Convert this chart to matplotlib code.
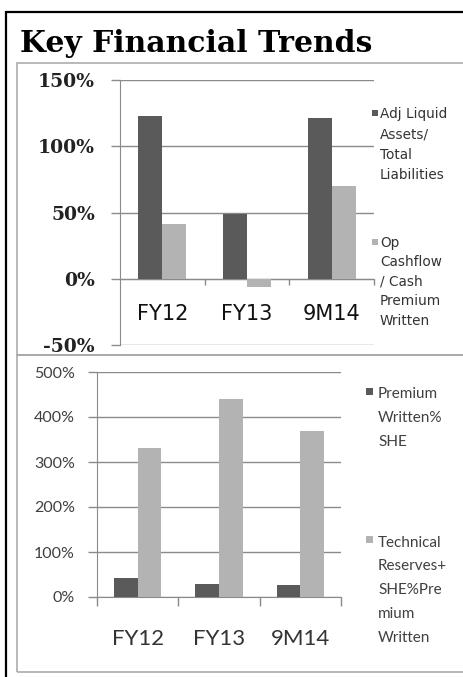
import numpy as np
import matplotlib.pyplot as plt
from matplotlib.patches import Rectangle

# ============================
# Datos
# ============================
periods = ["FY12", "FY13", "9M14"]

liquid_assets = [123, 49, 121]      # Adj Liquid Assets / Total Liabilities (%)
op_cashflow = [41, -6, 70]          # Op Cashflow / Cash Premium Written (%)
liq_labels = ["Adj Liquid", "Assets/", "Total", "Liabilities"]
cash_labels = ["Op", "Cashflow", "/ Cash", "Premium", "Written"]

premium_she = [42, 30, 27]          # Premium Written % SHE
reserves_premium = [332, 439, 369]  # Technical Reserves + SHE % Premium Written
prem_labels = ["Premium", "Written%", "SHE"]
res_labels = ["Technical", "Reserves+", "SHE%Pre", "mium", "Written"]

top_ticks = [-50, 0, 50, 100, 150]
bottom_ticks = [0, 100, 200, 300, 400, 500]

DARK = "#5a5a5a"
LIGHT = "#b3b3b3"
GRID = "#8a8a8a"
FRAME = "#a6a6a6"

W, H = 464, 677
fig = plt.figure(figsize=(W / 100, H / 100), dpi=100)
fig.patch.set_facecolor("white")


def box(x0, y0, x1, y1):
    # caja en pixeles (origen arriba-izquierda) -> coordenadas de figura
    return [x0 / W, 1 - y1 / H, (x1 - x0) / W, (y1 - y0) / H]


def frame(x0, y0, x1, y1, color, lw):
    fig.add_artist(Rectangle((x0 / W, 1 - y1 / H), (x1 - x0) / W, (y1 - y0) / H,
                             transform=fig.transFigure, fill=False,
                             edgecolor=color, lw=lw, clip_on=False))


def legend_block(x_sq, y_sq, sq, x_txt, baseline0, step, lines, color, font, size, tcolor):
    fig.add_artist(Rectangle((x_sq / W, 1 - (y_sq + sq) / H), sq / W, sq / H,
                             transform=fig.transFigure, color=color, lw=0))
    for i, line in enumerate(lines):
        fig.text(x_txt / W, 1 - (baseline0 + i * step) / H, line, va="baseline",
                 ha="left", family=font, fontsize=size, color=tcolor)


# marcos
frame(6, 12, 480, 700, "black", 1.6)
frame(17.5, 63, 480, 354.5, FRAME, 1.1)
frame(17.5, 354.5, 480, 672, FRAME, 1.1)

fig.text(20 / W, 1 - 52 / H, "Key Financial Trends", family="DejaVu Serif",
         weight="bold", fontsize=21.5, va="baseline", ha="left")

x = np.arange(len(periods))

# ============================
# Panel superior
# ============================
ax1 = fig.add_axes(box(120, 80, 374, 345))
w1 = 0.285
ax1.bar(x - w1 / 2, liquid_assets, w1, color=DARK, zorder=3)
ax1.bar(x + w1 / 2, op_cashflow, w1, color=LIGHT, zorder=3)
ax1.set_xlim(-0.5, 2.5)
ax1.set_ylim(-50, 150)
ax1.set_yticks(top_ticks)
ax1.set_yticklabels([f"{v}%" for v in top_ticks])
ax1.yaxis.grid(True, color=GRID, lw=1.0)
ax1.set_axisbelow(True)
for s in ["top", "right"]:
    ax1.spines[s].set_visible(False)
ax1.spines["bottom"].set_position(("data", 0))
ax1.spines["bottom"].set_color(GRID)
ax1.spines["left"].set_color(GRID)
ax1.set_xticks(x)
ax1.set_xticklabels(periods)
ax1.set_xticks([0.5, 1.5, 2.5], minor=True)
ax1.tick_params(axis="x", which="major", length=0, pad=18, labelsize=15,
                labelcolor="#111111")
ax1.tick_params(axis="x", which="minor", length=4.5, color=GRID, width=1)
ax1.tick_params(axis="y", length=6.5, color=GRID, width=1, pad=11.5,
                labelsize=13.5, labelcolor="#222222")
for t in ax1.get_yticklabels():
    t.set_family("DejaVu Serif")
    t.set_weight("bold")
for t in ax1.get_xticklabels():
    t.set_family("DejaVu Sans")

legend_block(372, 110, 6, 380, 118, 20.3, liq_labels, DARK, "DejaVu Sans", 9.8, "#333333")
legend_block(372, 239, 6, 380, 246.5, 19.6, cash_labels, LIGHT, "DejaVu Sans", 9.8, "#333333")

# ============================
# Panel inferior
# ============================
ax2 = fig.add_axes(box(97, 372, 341, 597))
w2 = 0.29
ax2.bar(x - w2 / 2, premium_she, w2, color=DARK, zorder=3)
ax2.bar(x + w2 / 2, reserves_premium, w2, color=LIGHT, zorder=3)
ax2.set_xlim(-0.5, 2.5)
ax2.set_ylim(0, 500)
ax2.set_yticks(bottom_ticks)
ax2.set_yticklabels([f"{v}%" for v in bottom_ticks])
ax2.yaxis.grid(True, color=GRID, lw=1.0)
ax2.set_axisbelow(True)
for s in ["top", "right"]:
    ax2.spines[s].set_visible(False)
ax2.spines["bottom"].set_color(GRID)
ax2.spines["left"].set_color(GRID)
ax2.set_xticks(x)
ax2.set_xticklabels(periods)
ax2.set_xticks([-0.5, 0.5, 1.5, 2.5], minor=True)
ax2.tick_params(axis="x", which="major", length=0, pad=23, labelsize=16,
                labelcolor="#333333")
ax2.tick_params(axis="x", which="minor", length=6.5, color=GRID, width=1)
ax2.tick_params(axis="y", length=6.5, color=GRID, width=1, pad=9.5,
                labelsize=11.5, labelcolor="#404040")
for t in ax2.get_xticklabels() + ax2.get_yticklabels():
    t.set_family("Lato")

legend_block(366, 388, 7, 378, 397.7, 24.2, prem_labels, DARK, "Lato", 11, "#404040")
legend_block(366, 536, 7, 378, 546.7, 23.8, res_labels, LIGHT, "Lato", 11, "#404040")

fig.savefig("out.png", dpi=100)
